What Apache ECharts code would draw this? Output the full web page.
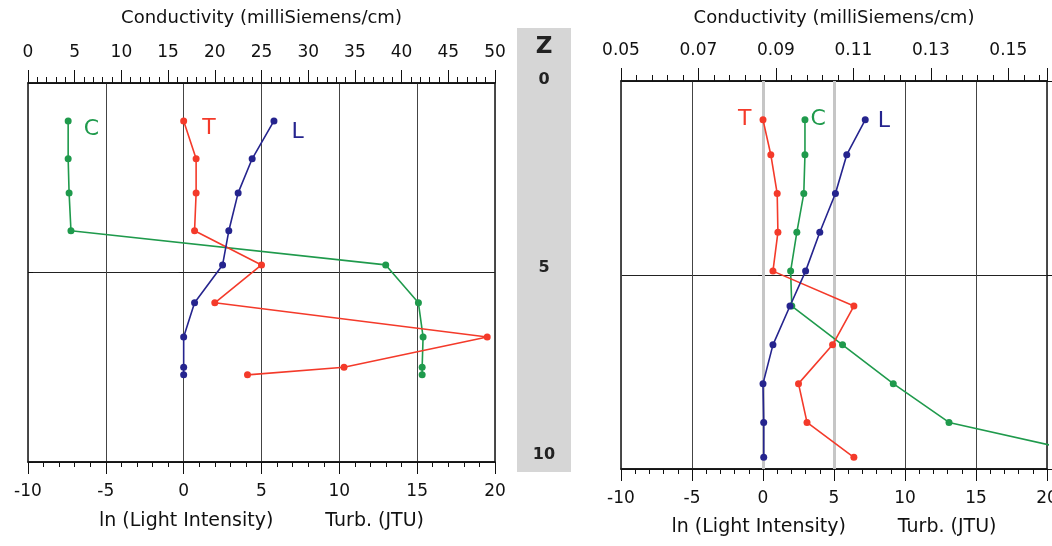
<!DOCTYPE html>
<html>
<head>
<meta charset="utf-8">
<script src="https://cdn.jsdelivr.net/npm/echarts@6/dist/echarts.min.js"></script>
<style>
  html, body { margin: 0; padding: 0; background: #fff; }
  #main { width: 1052px; height: 546px; }
</style>
</head>
<body>
<div id="main"></div>
<script>
// depth of each sample (Z), left and right profiles
const depthLeft = [1, 2, 2.9, 3.9, 4.8, 5.8, 6.7, 7.5, 7.7]
const depthRight = [1, 1.9, 2.9, 3.9, 4.9, 5.8, 6.8, 7.8, 8.8, 9.7]

// left profile
const condLeft = [4.3, 4.3, 4.4, 4.6, 38.3, 41.8, 42.3, 42.2, 42.2] // milliSiemens/cm
const turbLeft = [0.0, 0.8, 0.8, 0.7, 5.0, 2.0, 19.5, 10.3, 4.1] // JTU
const lightLeft = [5.8, 4.4, 3.5, 2.9, 2.5, 0.7, 0.0, 0.0, 0.0] // ln

// right profile
const condRight = [0.0975, 0.0975, 0.0972, 0.0954, 0.0938, 0.0941, 0.1072, 0.1203, 0.1347, 0.175]
const turbRight = [0.0, 0.55, 1.0, 1.05, 0.7, 6.4, 4.9, 2.5, 3.1, 6.4]
const lightRight = [7.2, 5.9, 5.1, 4.0, 3.0, 1.9, 0.7, 0.0, 0.05, 0.05]

// depth labels in the middle strip
const depthTicks = [0, 5, 10]

const FONT = 'DejaVu Sans'
const GREEN = '#1f9a4c'
const RED = '#f43a2a'
const BLUE = '#25248e'
const INK = '#111'

function pairs(xs, ys) {
  return xs.map((x, i) => [x, ys[i]])
}

/** first point carries the series letter */
function withTag(data, tag, color, position, distance, offset) {
  data[0] = {
    value: data[0],
    label: {
      show: true,
      formatter: tag,
      position: position,
      distance: distance,
      offset: offset,
      color: color,
      fontSize: 22,
      fontFamily: FONT
    }
  }
  return data
}

function bottomAxis(gridIndex, gap) {
  return {
    gridIndex: gridIndex,
    type: 'value',
    position: 'bottom',
    min: -10,
    max: 20,
    interval: 5,
    axisLine: { show: true, onZero: false, lineStyle: { color: INK, width: 1.5 } },
    axisTick: { show: true, length: 12, lineStyle: { color: INK } },
    minorTick: { show: true, splitNumber: 5, length: 5, lineStyle: { color: INK } },
    axisLabel: { margin: 21, fontSize: 17, color: INK, fontFamily: FONT },
    splitLine: { show: true, lineStyle: { color: '#444', width: 1 } },
    name: '{a|ln (Light Intensity)}{b|Turb. (JTU)}',
    nameLocation: 'middle',
    nameGap: gap,
    nameTextStyle: {
      rich: {
        a: { fontSize: 19, color: INK, fontFamily: FONT },
        b: { fontSize: 19, color: INK, fontFamily: FONT, padding: [0, 0, 0, 52] }
      }
    }
  }
}

function topAxis(gridIndex, min, max, interval, gap, fmt) {
  return {
    gridIndex: gridIndex,
    type: 'value',
    position: 'top',
    min: min,
    max: max,
    interval: interval,
    axisLine: { show: true, onZero: false, lineStyle: { color: INK, width: 1.5 } },
    axisTick: { show: true, length: 13, lineStyle: { color: INK } },
    minorTick: { show: true, splitNumber: 5, length: 6, lineStyle: { color: INK } },
    axisLabel: { margin: 22, fontSize: 17, color: INK, fontFamily: FONT, formatter: fmt, showMaxLabel: fmt ? false : true },
    splitLine: { show: false },
    name: 'Conductivity (milliSiemens/cm)',
    nameLocation: 'middle',
    nameGap: gap,
    nameTextStyle: { fontSize: 18, color: INK, fontFamily: FONT }
  }
}

function depthAxis(gridIndex, position, split) {
  return {
    gridIndex: gridIndex,
    type: 'value',
    position: position,
    inverse: true,
    min: 0,
    max: 10,
    interval: 5,
    axisLine: { show: false },
    axisTick: { show: true, length: 5, lineStyle: { color: INK } },
    axisLabel: { show: false },
    splitLine: { show: split, lineStyle: { color: '#222', width: 1 } }
  }
}

function profile(data, color, xAxisIndex, yAxisIndex) {
  return {
    type: 'line',
    xAxisIndex: xAxisIndex,
    yAxisIndex: yAxisIndex,
    data: data,
    symbol: 'circle',
    symbolSize: 7,
    clip: false,
    color: color,
    lineStyle: { color: color, width: 1.6 },
    itemStyle: { color: color },
    z: 3
  }
}

const chart = echarts.init(document.getElementById('main'))

const option = {
  animation: false,
  backgroundColor: '#fff',
  grid: [
    { left: 28, top: 83, width: 467, height: 379, show: true, borderColor: INK, borderWidth: 1.5, outerBoundsMode: 'none' },
    { left: 621, top: 81, width: 426, height: 388, show: true, borderColor: INK, borderWidth: 1.5, outerBoundsMode: 'none' },
    // middle strip: depth labels only
    { left: 544, top: 80, width: 1, height: 375, show: false, outerBoundsMode: 'none' }
  ],
  xAxis: [
    bottomAxis(0, 50),
    topAxis(0, 0, 50, 5, 56),
    bottomAxis(1, 49),
    topAxis(1, 0.05, 0.16, 0.02, 54, v => v.toFixed(2)),
    { gridIndex: 2, type: 'value', show: false, min: 0, max: 1 }
  ],
  yAxis: [
    depthAxis(0, 'left', true),
    depthAxis(0, 'right', false),
    depthAxis(1, 'left', true),
    depthAxis(1, 'right', false),
    {
      gridIndex: 2,
      type: 'value',
      inverse: true,
      min: 0,
      max: 10,
      interval: 5,
      z: 10,
      axisLine: { show: false },
      axisTick: { show: false },
      splitLine: { show: false },
      axisLabel: {
        margin: 0,
        align: 'center',
        fontSize: 16,
        fontWeight: 'bold',
        color: '#222',
        fontFamily: FONT,
        formatter: v => (depthTicks.indexOf(v) >= 0 ? String(v) : '')
      }
    }
  ],
  graphic: [
    { type: 'rect', z: -1, shape: { x: 517, y: 28, width: 54, height: 444 }, style: { fill: '#d6d6d6' } },
    {
      type: 'text', z: 20, x: 544, y: 47,
      style: { text: 'Z', fontSize: 23, fontWeight: 'bold', fontFamily: FONT, fill: '#222', align: 'center', verticalAlign: 'middle' }
    }
  ],
  series: [
    // gray reference lines at 0 and 5 in the right panel, under the profiles
    {
      type: 'line',
      xAxisIndex: 2,
      yAxisIndex: 2,
      data: [[0, 0]],
      showSymbol: false,
      silent: true,
      z: 1,
      markLine: {
        z: 1,
        silent: true,
        symbol: ['none', 'none'],
        label: { show: false },
        lineStyle: { color: '#c6c6c6', width: 3, type: 'solid' },
        data: [{ xAxis: 0 }, { xAxis: 5 }]
      }
    },
    profile(withTag(pairs(condLeft, depthLeft), 'C', GREEN, 'right', 12, [0, 8]), GREEN, 1, 0),
    profile(withTag(pairs(turbLeft, depthLeft), 'T', RED, 'right', 15, [0, 7]), RED, 0, 0),
    profile(withTag(pairs(lightLeft, depthLeft), 'L', BLUE, 'right', 14, [0, 11]), BLUE, 0, 0),
    profile(withTag(pairs(condRight, depthRight), 'C', GREEN, 'right', 2, [0, -1]), GREEN, 3, 2),
    profile(withTag(pairs(turbRight, depthRight), 'T', RED, 'left', 8, [0, -1]), RED, 2, 2),
    profile(withTag(pairs(lightRight, depthRight), 'L', BLUE, 'right', 9, [0, 1]), BLUE, 2, 2)
  ]
}

chart.setOption(option)
</script>
</body>
</html>
